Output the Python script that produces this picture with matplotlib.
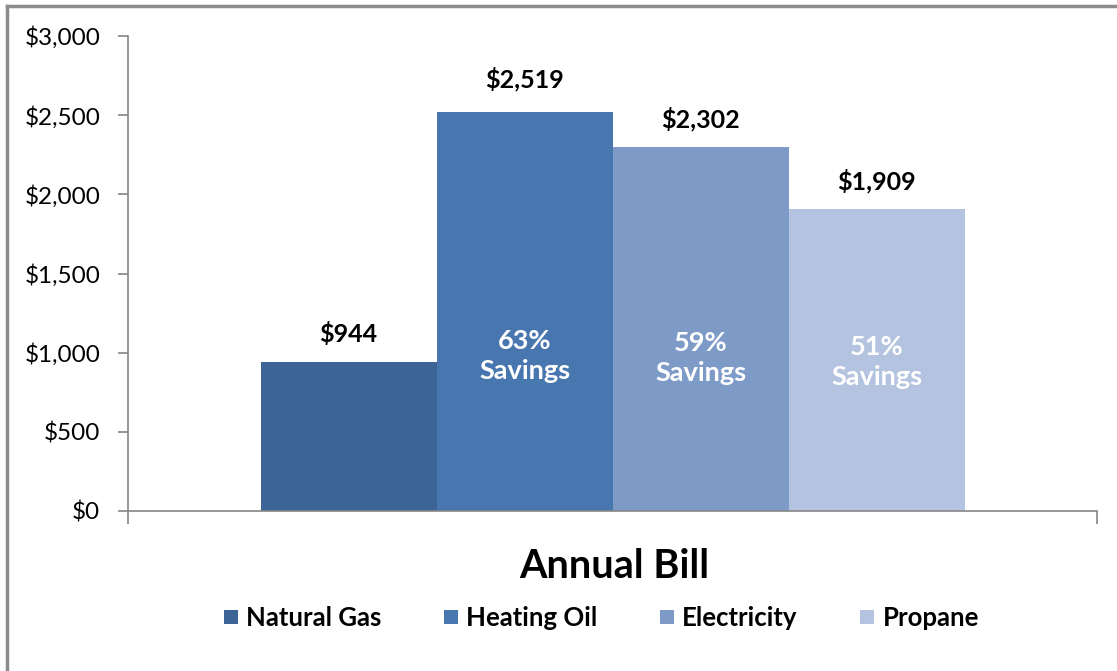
import matplotlib
matplotlib.use("Agg")
import matplotlib.pyplot as plt
from matplotlib.lines import Line2D

categories = ["Natural Gas", "Heating Oil", "Electricity", "Propane"]
values = [944, 2519, 2302, 1909]
savings = ["", "63%\nSavings", "59%\nSavings", "51%\nSavings"]
savings_y = [None, 980, 966, 941]
colors = ["#3C6496", "#4877B0", "#7E9BC8", "#B4C3DF"]
yticks = [0, 500, 1000, 1500, 2000, 2500, 3000]
group_label = "Annual Bill"

plt.rcParams['font.family'] = ['Lato', 'DejaVu Sans']

W, H = 1117, 671
fig = plt.figure(figsize=(W / 100, H / 100), dpi=100)
ax = fig.add_axes([128 / W, 1 - 511 / H, (1097 - 128) / W, (511 - 36) / H])

bw = 176 / 969
n = len(categories)
offsets = [(i - (n - 1) / 2) * bw for i in range(n)]
label_off = [20, 24, 20, 20]
for i, (cat, v, c) in enumerate(zip(categories, values, colors)):
    ax.bar(offsets[i], v, width=bw, color=c, label=cat, linewidth=0)
    ax.annotate(f"${v:,}", (offsets[i], v), xytext=(0, label_off[i]), textcoords="offset points",
                ha="center", va="center", fontsize=18, fontweight="bold", color="#000000")
    if savings[i]:
        ax.text(offsets[i], savings_y[i], savings[i], ha="center", va="center",
                fontsize=19.5, fontweight="bold", color="white", linespacing=1.32)

ax.set_xlim(-0.5, 0.5)
ax.set_ylim(0, 3000)
ax.set_yticks(yticks)
ax.set_yticklabels([f"${t:,}" for t in yticks], fontsize=17.5)
ax.set_xticks([-0.5, 0.5])
ax.set_xticklabels(["", ""])
for s in ["top", "right"]:
    ax.spines[s].set_visible(False)
for s in ["left", "bottom"]:
    ax.spines[s].set_color("#868686")
    ax.spines[s].set_linewidth(1.2)
ax.tick_params(axis="y", direction="out", length=7, color="#868686", width=1.2, pad=13)
ax.tick_params(axis="x", direction="out", length=9, color="#868686", width=1.2)

fig.text(614 / W, 1 - 566 / H, group_label, ha="center", va="center",
         fontsize=28.5, fontweight="bold")

handles = [Line2D([0], [0], marker="s", linestyle="none", markersize=10,
                  markerfacecolor=c, markeredgewidth=0) for c in colors]
leg = fig.legend(handles, categories, loc="center", bbox_to_anchor=(601 / W, 1 - 618 / H),
                 ncol=4, frameon=False, handlelength=0.6,
                 handletextpad=0.3, columnspacing=2.4, prop={"weight": "bold", "size": 18.5})

fig.add_artist(Line2D([7 / W, 7 / W], [1 - 6 / H, 0], transform=fig.transFigure,
                      color="#8C8C8C", linewidth=2.5))
fig.add_artist(Line2D([7 / W, 1], [1 - 6 / H, 1 - 6 / H], transform=fig.transFigure,
                      color="#8C8C8C", linewidth=2.5))

fig.savefig("out.png", dpi=100, facecolor="white")
